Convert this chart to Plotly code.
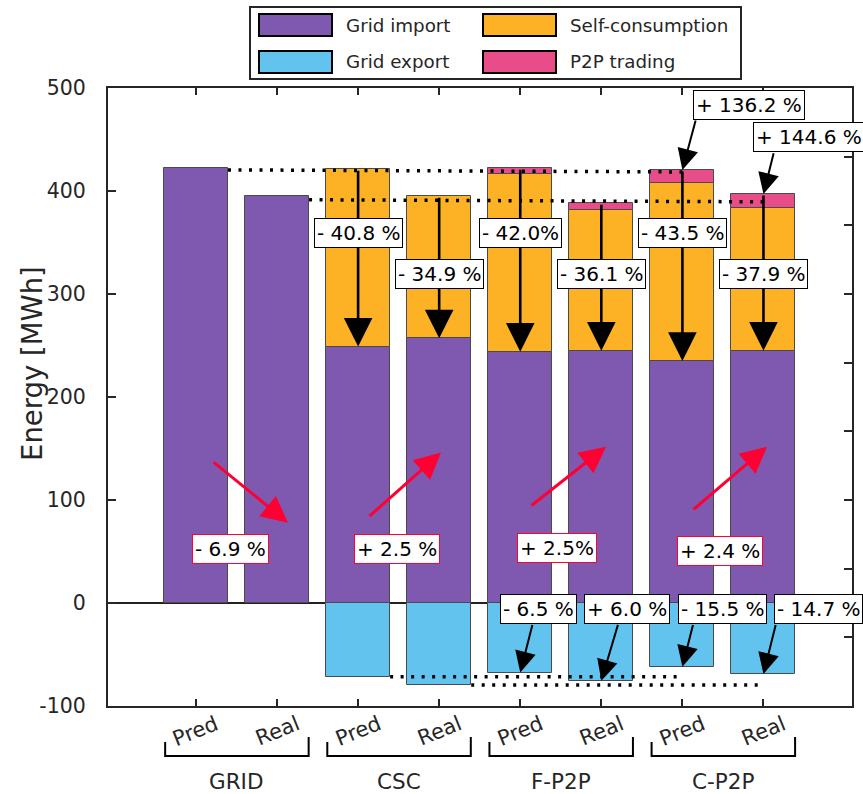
import plotly.graph_objects as go

# ---- data (MWh) ----
groups = ["GRID", "CSC", "F-P2P", "C-P2P"]
cases = ["Pred", "Real"]
series_names = ["Grid import", "Self-consumption", "Grid export", "P2P trading"]

grid_import = [422, 395, 249, 257, 244, 245, 235, 245]
self_consumption = [None, None, 172, 138, 172.5, 137, 173, 138.5]
p2p_trading = [None, None, None, None, 5.5, 6, 12.5, 13.5]
grid_export = [None, None, -71.5, -79.5, -67.5, -75.5, -62, -69]

# y-axis ticks
y_ticks = [-100, 0, 100, 200, 300, 400, 500]
y_tick_text = ["-100", "0", "100", "200", "300", "400", "500"]

# relative changes written on the chart
self_change_labels = ["- 40.8 %", "- 34.9 %", "- 42.0%", "- 36.1 %", "- 43.5 %", "- 37.9 %"]
import_change_labels = ["- 6.9 %", "+ 2.5 %", "+ 2.5%", "+ 2.4 %"]
export_change_labels = ["- 6.5 %", "+ 6.0 %", "- 15.5 %", "- 14.7 %"]
p2p_change_labels = ["+ 136.2 %", "+ 144.6 %"]

# reference levels for the dotted guide lines
guide_upper = [420.5, 418.5]
guide_lower = [391.5, 389.5]
guide_export = [-71.5, -79.5]

# ---- styling ----
PURPLE = "#7f59af"
ORANGE = "#fdb226"
BLUE = "#62c4ee"
PINK = "#e84c89"
RED = "#ff0033"
EDGE = "#4a4a4a"
AXIS = "#262626"
FONT = "DejaVu Sans"

W, H = 863, 794
ML, MR, MT, MB = 108, 11, 88, 88
PW, PH = W - ML - MR, H - MT - MB


def px_x(px):
    return (px - ML) / PW


def px_y(py):
    return (H - MB - py) / PH


n = len(grid_import)
x_pos = [i + 1 for i in range(n)]
bar_w = 0.79


def val(v):
    return v if v is not None else 0


totals = [val(a) + val(b) + val(c) for a, b, c in zip(grid_import, self_consumption, p2p_trading)]

fig = go.Figure()
bar_line = dict(color=EDGE, width=1)
fig.add_bar(x=x_pos, y=grid_import, name=series_names[0], width=bar_w,
            marker=dict(color=PURPLE, line=bar_line))
fig.add_bar(x=x_pos, y=self_consumption, name=series_names[1], width=bar_w,
            marker=dict(color=ORANGE, line=bar_line))
fig.add_bar(x=x_pos, y=p2p_trading, name=series_names[3], width=bar_w,
            marker=dict(color=PINK, line=bar_line))
fig.add_bar(x=x_pos, y=grid_export, name=series_names[2], width=bar_w,
            marker=dict(color=BLUE, line=bar_line))
# carrier for the right-hand tick axis
fig.add_scatter(x=[None], y=[None], yaxis="y2", showlegend=False, hoverinfo="skip")

shapes = []
annotations = []

# dotted guide lines
dot = dict(color="black", width=3.5, dash="3px,7.5px")
shapes.append(dict(type="line", xref="x", yref="y", layer="above",
                   x0=x_pos[0] + bar_w / 2, x1=x_pos[6], y0=guide_upper[0], y1=guide_upper[1], line=dot))
shapes.append(dict(type="line", xref="x", yref="y", layer="above",
                   x0=x_pos[1] + bar_w / 2, x1=x_pos[7], y0=guide_lower[0], y1=guide_lower[1], line=dot))
shapes.append(dict(type="line", xref="x", yref="y", layer="above",
                   x0=x_pos[2] + bar_w / 2, x1=x_pos[6], y0=guide_export[0], y1=guide_export[0], line=dot))
shapes.append(dict(type="line", xref="x", yref="y", layer="above",
                   x0=x_pos[3] + bar_w / 2, x1=x_pos[7], y0=guide_export[1], y1=guide_export[1], line=dot))


def arrow(x_tail, y_tail, x_tip, y_tip, color, width, size):
    annotations.append(dict(x=x_tip, y=y_tip, ax=x_tail, ay=y_tail, xref="x", yref="y",
                            axref="x", ayref="y", text="", showarrow=True, arrowhead=2,
                            arrowsize=size, arrowwidth=width, arrowcolor=color))


def label(x, y, text, border, size=20):
    annotations.append(dict(x=x, y=y, xref="x", yref="y", text=text, showarrow=False,
                            xanchor="center", yanchor="middle",
                            font=dict(family=FONT, size=size, color="black"),
                            bgcolor="white", bordercolor=border, borderwidth=1, borderpad=2))


def paper_text(x, y, text, size, angle=0, xanchor="center"):
    annotations.append(dict(x=x, y=y, xref="paper", yref="paper", text=text, showarrow=False,
                            xanchor=xanchor, yanchor="middle", textangle=angle,
                            font=dict(family=FONT, size=size, color=AXIS)))


# self-consumption drops (total -> grid import)
for i in range(2, n):
    arrow(x_pos[i], totals[i], x_pos[i], grid_import[i], "black", 2.6, 2.2)

# export changes
export_arrows = [(0.154, -19.8, 4), (0.21, -19.8, 5), (0.135, -19.8, 6), (0.155, -19.8, 7)]
for dx, y_tail, i in export_arrows:
    arrow(x_pos[i] + dx, y_tail, x_pos[i], grid_export[i], "black", 2, 2.1)

# P2P increases
p2p_arrows = [(0.168, 470, 6), (0.13, 438, 7)]
for dx, y_tail, i in p2p_arrows:
    arrow(x_pos[i] + dx, y_tail, x_pos[i], totals[i], "black", 2, 2.1)

# grid import changes (red)
red_arrows = [(1.198, 138, 2.135, 78), (3.122, 83, 4.022, 146),
              (5.12, 93.5, 6.058, 151.7), (7.119, 89.6, 8.044, 151.7)]
for xt, yt, xh, yh in red_arrows:
    arrow(xt, yt, xh, yh, RED, 3, 1.75)

# labels
drop_label_y = [359, 319]
for k, i in enumerate(range(2, n)):
    label(x_pos[i], drop_label_y[i % 2], self_change_labels[k], "black")

import_label_pos = [(1.42, 52.7), (3.48, 52.7), (5.453, 53.7), (7.464, 50.8)]
for (lx, ly), t in zip(import_label_pos, import_change_labels):
    label(lx, ly, t, RED)

export_label_x = [5.23, 6.32, 7.5, 8.68]
for lx, t in zip(export_label_x, export_change_labels):
    label(lx, -5.5, t, "black")

p2p_label_pos = [(7.822, 483.8), (8.562, 452)]
for (lx, ly), t in zip(p2p_label_pos, p2p_change_labels):
    label(lx, ly, t, "black")

# category labels under the axis
for i in range(n):
    annotations.append(dict(x=x_pos[i], y=px_y(731), xref="x", yref="paper",
                            xanchor="center", yanchor="middle",
                            text=cases[i % 2], showarrow=False, textangle=-22,
                            font=dict(family=FONT, size=21, color=AXIS)))

# group brackets and names
for g, name in enumerate(groups):
    xl = x_pos[2 * g] - 0.38
    xr = x_pos[2 * g + 1] + 0.39
    yb = px_y(756)
    shapes.append(dict(type="path", xref="x", yref="paper", layer="above",
                       path=f"M{xl},{px_y(742)} L{xl},{yb} L{xr},{yb} L{xr},{px_y(737)}",
                       line=dict(color="black", width=2)))
    annotations.append(dict(x=(x_pos[2 * g] + x_pos[2 * g + 1]) / 2, y=px_y(781), xref="x", yref="paper",
                            xanchor="center", yanchor="middle",
                            text=name, showarrow=False,
                            font=dict(family=FONT, size=21.5, color=AXIS)))

# y-axis title
paper_text(px_x(32), px_y(364), "Energy [MWh]", 27.5, angle=-90)

# legend panel
shapes.append(dict(type="rect", xref="paper", yref="paper", layer="above",
                   x0=px_x(250), x1=px_x(741), y0=px_y(79), y1=px_y(7),
                   fillcolor="white", line=dict(color=AXIS, width=2)))
legend_items = [(series_names[0], PURPLE, 0, 0), (series_names[1], ORANGE, 1, 0),
                (series_names[2], BLUE, 0, 1), (series_names[3], PINK, 1, 1)]
col_x = [259, 483]
row_y = [14, 51]
for name, color, c, r in legend_items:
    shapes.append(dict(type="rect", xref="paper", yref="paper", layer="above",
                       x0=px_x(col_x[c]), x1=px_x(col_x[c] + 73),
                       y0=px_y(row_y[r] + 22), y1=px_y(row_y[r]),
                       fillcolor=color, line=dict(color="black", width=2)))
    paper_text(px_x(col_x[c] + 85), px_y(row_y[r] + 11), name, 18.3, xanchor="left")

fig.update_layout(
    width=W, height=H,
    margin=dict(l=ML, r=MR, t=MT, b=MB),
    paper_bgcolor="white", plot_bgcolor="white",
    barmode="relative", bargap=0, showlegend=False,
    font=dict(family=FONT, color=AXIS),
    xaxis=dict(range=[-0.085, 9.092], tickvals=x_pos, showticklabels=False,
               ticks="inside", ticklen=7, tickwidth=1.5, tickcolor=AXIS,
               showline=True, linewidth=2, linecolor=AXIS, mirror="ticks",
               showgrid=False, zeroline=False),
    yaxis=dict(range=[-100, 500], tickvals=y_ticks, ticktext=y_tick_text,
               ticks="inside", ticklen=8, tickwidth=1.5,
               tickcolor=AXIS, showline=True, linewidth=2, linecolor=AXIS,
               showgrid=False, zeroline=True, zerolinecolor="#222222", zerolinewidth=2,
               tickfont=dict(family=FONT, size=20.5, color=AXIS), ticklabelstandoff=16),
    yaxis2=dict(range=[0, 9], dtick=1, overlaying="y", side="right", ticks="inside",
                ticklen=8, tickwidth=1.5, tickcolor=AXIS, showticklabels=False,
                showline=True, linewidth=2, linecolor=AXIS, showgrid=False, zeroline=False),
    shapes=shapes,
    annotations=annotations,
)

fig.write_html("out.html")
